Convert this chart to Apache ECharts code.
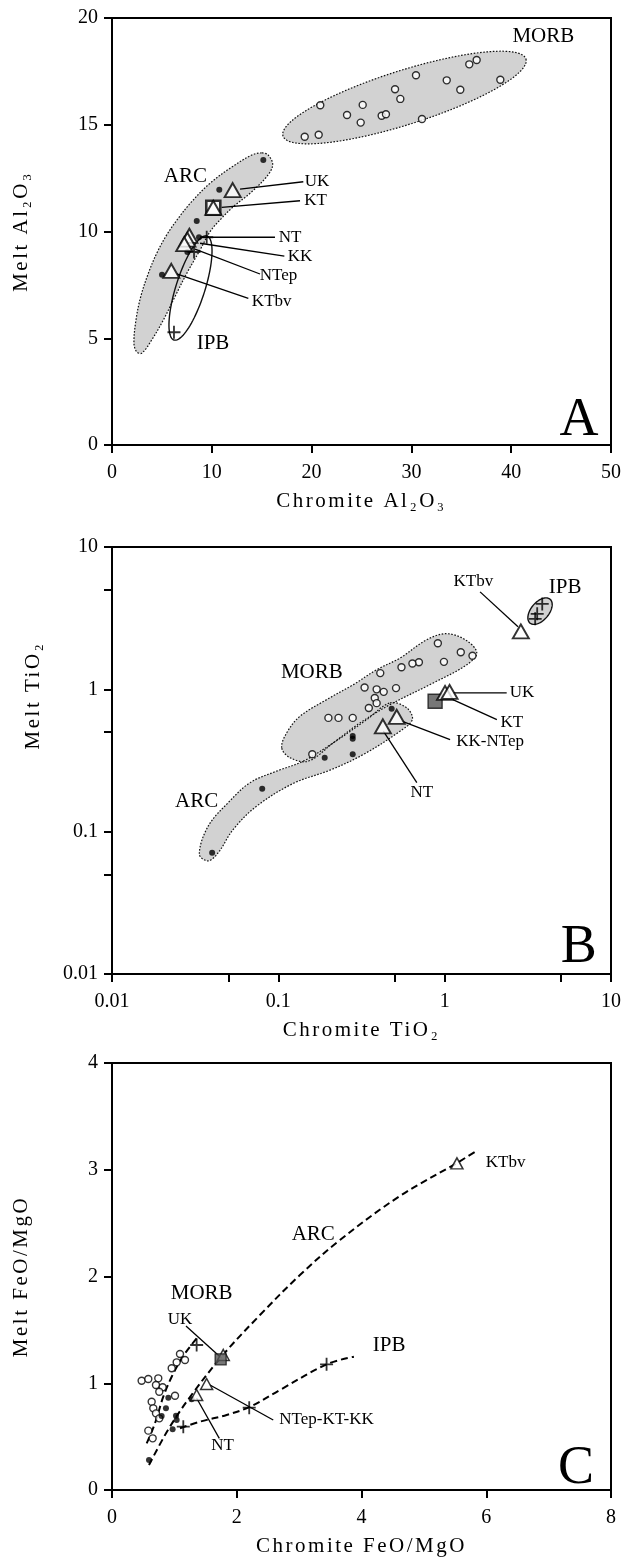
<!DOCTYPE html>
<html>
<head>
<meta charset="utf-8">
<script src="https://cdn.jsdelivr.net/npm/echarts@6/dist/echarts.min.js"></script>
<style>
  html, body { margin: 0; padding: 0; background: #fff; }
  #chart { width: 627px; height: 1562px; }
</style>
</head>
<body>
<div id="chart"></div>
<script>
// ---------- Panel A: chromite Al2O3 vs melt Al2O3 ----------
const aMorb = [[20.87,15.91],[25.12,15.93],[23.55,15.46],[24.92,15.10],[27.02,15.42],[27.45,15.49],[28.36,16.66],[28.89,16.21],[30.46,17.32],[31.06,15.27],[33.54,17.08],[34.9,16.64],[35.8,17.83],[36.54,18.03],[38.91,17.11],[19.31,14.44],[20.71,14.53]];
const aArc = [[15.16,13.35],[10.75,11.96],[8.49,10.49],[8.72,9.73],[7.55,9.04],[5.01,7.98]];
const aIpb = [[9.49,9.73],[8.22,9.04],[6.21,5.28]];
const aSampleNames = ['UK','KT','NT','KK','NTep','KTbv'];
const aSamples = [[12.09,11.94],[10.15,11.11],[7.75,9.80],[7.55,9.62],[7.24,9.41],[5.94,8.16]];
const aKT = [[10.15,11.11]];
// ellipses: both ends of the long axis, then one end of the short axis
const aMorbEllipse = [[17.13,14.47],[41.48,18.08],[30.13,15.07]];
const aIpbEllipse = [[9.52,9.79],[6.21,4.92],[9.25,7.15]];
const aArcOutline = [[15.03,13.68],[15.66,13.58],[16.10,13.11],[15.50,12.57],[13.83,11.79],[12.15,11.16],[10.82,10.54],[9.82,9.99],[8.82,9.13],[7.49,8.04],[6.31,6.95],[5.14,5.85],[3.98,4.92],[2.98,4.30],[2.47,4.37],[2.20,4.76],[2.40,5.85],[2.88,6.95],[3.64,8.04],[4.48,8.98],[5.48,9.84],[6.64,10.62],[7.99,11.40],[9.82,12.26],[11.82,12.96],[14.0,13.58]];
const aLeaders = [[12.83,11.98,19.17,12.33],[10.99,11.13,18.84,11.44],[8.82,9.73,16.33,9.73],[8.82,9.45,17.27,8.85],[8.32,9.17,14.83,8.01],[6.48,8.01,13.66,6.87]];
const aLabels = [[20.54,12.33,'UK'],[20.39,11.43,'KT'],[17.84,9.73,'NT'],[18.84,8.85,'KK'],[16.68,7.96,'NTep'],[16.0,6.71,'KTbv']];
const aRegionLabels = [[43.22,19.12,'MORB'],[7.36,12.6,'ARC'],[10.12,4.76,'IPB']];
const aLetter = [[46.8,1.15,'A']];

// ---------- Panel B: chromite TiO2 vs melt TiO2 (log-log) ----------
const bMorb = [[0.91,2.11],[1.25,1.82],[1.47,1.72],[0.99,1.56],[0.70,1.55],[0.64,1.52],[0.55,1.43],[0.41,1.30],[0.33,1.03],[0.39,1.00],[0.43,0.96],[0.51,1.02],[0.38,0.87],[0.39,0.80],[0.35,0.74],[0.20,0.63],[0.23,0.63],[0.28,0.63],[0.16,0.35]];
const bArc = [[0.48,0.73],[0.28,0.47],[0.28,0.45],[0.28,0.35],[0.19,0.33],[0.08,0.20],[0.04,0.071]];
const bIpb = [[3.86,3.98],[3.6,3.39],[3.5,3.13]];
const bSampleNames = ['UK','KT','KK-NTep','NT','KTbv'];
const bSamples = [[1.005,0.944],[1.07,0.959],[0.515,0.641],[0.425,0.55],[2.87,2.55]];
const bKT = [[0.876,0.824]];
const bMorbOutline = [[0.1048,0.3884],[0.1123,0.495],[0.135,0.647],[0.1954,0.847],[0.2825,1.079],[0.3906,1.374],[0.539,1.66],[0.78,2.23],[1.03,2.46],[1.36,2.194],[1.56,1.80],[1.36,1.49],[0.855,1.109],[0.4695,0.781],[0.31,0.581],[0.2141,0.421],[0.1515,0.313],[0.1176,0.3307]];
const bArcOutline = [[0.4695,0.803],[0.592,0.741],[0.639,0.613],[0.539,0.508],[0.3245,0.3487],[0.2046,0.2707],[0.1231,0.2184],[0.0742,0.1514],[0.0536,0.1039],[0.0436,0.0714],[0.0379,0.0623],[0.0335,0.0694],[0.0379,0.1096],[0.05,0.16],[0.0676,0.2209],[0.0978,0.2664],[0.1413,0.313],[0.2141,0.421],[0.34,0.613]];
const bIpbEllipse = [[3.26,2.92],[4.30,4.30],[4.12,3.23]];
const bLeaders = [[1.633,4.84,2.76,2.75],[1.128,0.944,2.36,0.944],[1.12,0.847,2.06,0.613],[0.552,0.597,1.078,0.444],[0.428,0.508,0.68,0.221]];
const bLabels = [[1.488,5.71,'KTbv'],[2.92,0.944,'UK'],[2.53,0.581,'KT'],[1.875,0.43,'KK-NTep'],[0.728,0.188,'NT']];
const bRegionLabels = [[5.30,5.22,'IPB'],[0.159,1.315,'MORB'],[0.0323,0.164,'ARC']];
const bLetter = [[6.4,0.0152,'B']];
const bTickValues = [0.01,0.05,0.1,0.5,1,5,10];
const bLabelValues = [0.01,0.1,1,10];

// ---------- Panel C: chromite FeO/MgO vs melt FeO/MgO ----------
const cMorb = [[0.475,1.024],[0.582,1.040],[0.742,1.046],[0.705,0.984],[0.812,0.962],[0.758,0.921],[1.09,1.274],[1.037,1.196],[1.17,1.218],[0.957,1.140],[1.01,0.883],[0.636,0.827],[0.662,0.765],[0.705,0.718],[0.758,0.671],[0.582,0.556],[0.652,0.484]];
const cArc = [[0.903,0.865],[0.865,0.765],[0.796,0.693],[1.026,0.696],[1.037,0.656],[0.972,0.568],[0.593,0.281],[1.277,0.849]];
const cCrosses = [[1.357,1.358],[1.143,0.593],[2.2,0.771],[3.44,1.177]];
const cSampleNames = ['UK','NTep-KT-KK','NT','KTbv'];
const cSamples = [[1.784,1.265],[1.517,0.993],[1.357,0.89],[5.53,3.06]];
const cKT = [[1.742,1.224]];
const cArcTrend = [[0.593,0.234],[0.897,0.562],[1.25,0.871],[1.779,1.265],[2.372,1.639],[3.013,2.014],[3.654,2.342],[4.615,2.754],[5.529,3.063],[5.865,3.185]];
const cMorbTrend = [[0.556,0.437],[0.689,0.625],[0.822,0.874],[0.957,1.061],[1.117,1.234],[1.25,1.342],[1.357,1.421]];
const cIpbTrend = [[1.09,0.578],[1.41,0.64],[1.838,0.703],[2.212,0.78],[2.692,0.937],[3.44,1.177],[3.878,1.249]];
const cLeaders = [[1.186,1.536,1.758,1.234],[1.571,0.984,2.585,0.656],[1.357,0.859,1.72,0.484]];
const cLabels = [[1.09,1.599,'UK'],[3.44,0.656,'NTep-KT-KK'],[1.774,0.412,'NT'],[6.31,3.066,'KTbv']];
const cRegionLabels = [[1.437,1.843,'MORB'],[3.226,2.389,'ARC'],[4.444,1.358,'IPB']];
const cLetter = [[7.44,0.2,'C']];

const FONT = 'Liberation Serif, Times New Roman, serif';
const GRAY = '#d2d2d2';
const CROSS = 'path://M4.3,0H5.7V4.3H10V5.7H5.7V10H4.3V5.7H0V4.3H4.3Z';
const TITLE_LETTER_SPACING = '2.5px';

function ellipsePixels(api, e) {
  const p1 = api.coord(e[0]), p2 = api.coord(e[1]), q = api.coord(e[2]);
  const c = [(p1[0] + p2[0]) / 2, (p1[1] + p2[1]) / 2];
  const a = [p2[0] - c[0], p2[1] - c[1]];
  const b = [q[0] - c[0], q[1] - c[1]];
  const pts = [];
  for (let k = 0; k < 96; k++) {
    const t = k / 96 * Math.PI * 2;
    pts.push([c[0] + a[0] * Math.cos(t) + b[0] * Math.sin(t),
              c[1] + a[1] * Math.cos(t) + b[1] * Math.sin(t)]);
  }
  return pts;
}

function shapePixels(api, s) {
  return s.ellipse ? ellipsePixels(api, s.pts) : s.pts.map(p => api.coord(p));
}

// grey fields (fills first, outlines on top of every fill)
function regionSeries(panel, shapes) {
  const base = { type: 'custom', xAxisIndex: panel, yAxisIndex: panel, silent: true,
                 data: shapes.map(s => s.pts[0]) };
  return [
    Object.assign({}, base, { z: 1, renderItem: (params, api) => {
      const s = shapes[params.dataIndex];
      if (!s.fill) return { type: 'group', children: [] };
      return { type: 'polygon', shape: { points: shapePixels(api, s), smooth: s.ellipse ? 0 : 0.35 },
               style: { fill: GRAY, stroke: null } };
    }}),
    Object.assign({}, base, { z: 2, renderItem: (params, api) => {
      const s = shapes[params.dataIndex];
      return { type: 'polygon', shape: { points: shapePixels(api, s), smooth: s.ellipse ? 0 : 0.35 },
               style: { fill: null, stroke: '#111', lineWidth: s.dotted ? 1.2 : 1.4,
                        lineDash: s.dotted ? [1.6, 1.6] : null } };
    }})
  ];
}

function leaderSeries(panel, segs) {
  return { type: 'custom', xAxisIndex: panel, yAxisIndex: panel, silent: true, z: 3,
    data: segs, encode: { x: [0, 2], y: [1, 3] },
    renderItem: (params, api) => {
      const p = api.coord([api.value(0), api.value(1)]);
      const q = api.coord([api.value(2), api.value(3)]);
      return { type: 'line', shape: { x1: p[0], y1: p[1], x2: q[0], y2: q[1] },
               style: { stroke: '#000', lineWidth: 1.3 } };
    } };
}

function textSeries(panel, items, size) {
  return { type: 'custom', xAxisIndex: panel, yAxisIndex: panel, silent: true, z: 6,
    data: items.map(t => [t[0], t[1]]),
    renderItem: (params, api) => {
      const t = items[params.dataIndex];
      const p = api.coord([t[0], t[1]]);
      return { type: 'text', x: p[0], y: p[1],
               style: { text: t[2], fill: '#000', fontSize: size, fontFamily: FONT,
                        align: 'center', verticalAlign: 'middle' } };
    } };
}

function marks(panel, data, look, z, names) {
  const looks = {
    open:   { symbol: 'circle', symbolSize: 7, itemStyle: { color: '#fff', borderColor: '#000', borderWidth: 1.4 } },
    dot:    { symbol: 'circle', symbolSize: 6, itemStyle: { color: '#000' } },
    tri:    { symbol: 'triangle', symbolSize: [16, 14], itemStyle: { color: '#fff', borderColor: '#000', borderWidth: 1.9 } },
    triS:   { symbol: 'triangle', symbolSize: [12, 11], itemStyle: { color: '#fff', borderColor: '#000', borderWidth: 1.5 } },
    cross:  { symbol: CROSS, symbolSize: 13, itemStyle: { color: '#000' } },
    sqOpen: { symbol: 'rect', symbolSize: 14, itemStyle: { color: '#fff', borderColor: '#000', borderWidth: 2.6 } },
    sqDark: { symbol: 'rect', symbolSize: 14, itemStyle: { color: '#555', borderColor: '#111', borderWidth: 1.4 } },
    sqDarkS:{ symbol: 'rect', symbolSize: 11, itemStyle: { color: '#555', borderColor: '#111', borderWidth: 1.3 } }
  };
  const d = names ? data.map((v, i) => ({ value: v, name: names[i] })) : data;
  return Object.assign({ type: 'scatter', xAxisIndex: panel, yAxisIndex: panel, z: z, data: d,
                         silent: true }, looks[look]);
}

function trend(panel, data) {
  return { type: 'line', xAxisIndex: panel, yAxisIndex: panel, data: data, smooth: 0.35,
           symbol: 'none', silent: true, z: 3,
           lineStyle: { color: '#000', width: 2, type: [7, 4] } };
}

const axisCommon = {
  nameLocation: 'middle',
  nameMoveOverlap: false,
  axisLine: { show: true, onZero: false, lineStyle: { color: '#000', width: 2 } },
  axisTick: { show: true, inside: false, length: 8, lineStyle: { color: '#000', width: 2 } },
  axisLabel: { color: '#000', fontFamily: FONT, fontSize: 20, margin: 18 },
  splitLine: { show: false },
  nameTextStyle: { color: '#000', fontFamily: FONT, fontSize: 21 }
};
function ax(extra) { return Object.assign({}, JSON.parse(JSON.stringify(axisCommon)), extra); }

const xAxes = [
  ax({ gridIndex: 0, type: 'value', min: 0, max: 50, interval: 10, name: 'Chromite Al₂O₃', nameGap: 46 }),
  ax({ gridIndex: 1, type: 'log', logBase: 10, min: 0.01, max: 10, name: 'Chromite TiO₂', nameGap: 46 }),
  ax({ gridIndex: 2, type: 'value', min: 0, max: 8, interval: 2, name: 'Chromite FeO/MgO', nameGap: 46 })
];
const yAxes = [
  ax({ gridIndex: 0, type: 'value', min: 0, max: 20, interval: 5, name: 'Melt Al₂O₃', nameRotate: 90, nameGap: 80 }),
  ax({ gridIndex: 1, type: 'log', logBase: 10, min: 0.01, max: 10, name: 'Melt TiO₂', nameRotate: 90, nameGap: 68 }),
  ax({ gridIndex: 2, type: 'value', min: 0, max: 4, interval: 1, name: 'Melt FeO/MgO', nameRotate: 90, nameGap: 80 })
];
// the TiO2 title sits above the middle of its axis
yAxes[1].nameTextStyle.padding = [0, 0, 0, 130];
[xAxes[1], yAxes[1]].forEach(a => {
  a.axisTick.customValues = bTickValues;
  a.axisLabel.customValues = bLabelValues;
  a.axisLabel.formatter = v => String(v);
});
yAxes.forEach(a => { a.axisLabel.margin = 14; });

// axis titles are typeset with open letter spacing; every other text keeps normal spacing
const axisTitles = new Set(xAxes.concat(yAxes).map(a => a.name));
const baseFillText = CanvasRenderingContext2D.prototype.fillText;
CanvasRenderingContext2D.prototype.fillText = function (text) {
  if (!('letterSpacing' in this)) return baseFillText.apply(this, arguments);
  const font = this.font;
  this.letterSpacing = axisTitles.has(text) ? TITLE_LETTER_SPACING : '0px';
  this.font = font;
  const r = baseFillText.apply(this, arguments);
  this.letterSpacing = '0px';
  this.font = font;
  return r;
};

const gridBox = { left: 112, width: 499, show: true, borderColor: '#000', borderWidth: 2,
                  backgroundColor: 'transparent', containLabel: false, outerBoundsMode: 'none' };
const grids = [
  Object.assign({}, gridBox, { top: 18, height: 427 }),
  Object.assign({}, gridBox, { top: 547, height: 427 }),
  Object.assign({}, gridBox, { top: 1063, height: 427 })
];

const series = [].concat(
  // A
  regionSeries(0, [
    { pts: aMorbEllipse, ellipse: true, fill: true, dotted: true },
    { pts: aArcOutline, ellipse: false, fill: true, dotted: true },
    { pts: aIpbEllipse, ellipse: true, fill: false, dotted: false }
  ]),
  leaderSeries(0, aLeaders),
  marks(0, aMorb, 'open', 4),
  marks(0, aArc, 'dot', 4),
  marks(0, aIpb, 'cross', 4),
  marks(0, aKT, 'sqOpen', 4),
  marks(0, aSamples, 'tri', 5, aSampleNames),
  textSeries(0, aLabels, 17),
  textSeries(0, aRegionLabels, 21),
  textSeries(0, aLetter, 54),
  // B
  regionSeries(1, [
    { pts: bMorbOutline, ellipse: false, fill: true, dotted: true },
    { pts: bArcOutline, ellipse: false, fill: true, dotted: true },
    { pts: bIpbEllipse, ellipse: true, fill: true, dotted: false }
  ]),
  leaderSeries(1, bLeaders),
  marks(1, bMorb, 'open', 4),
  marks(1, bArc, 'dot', 4),
  marks(1, bIpb, 'cross', 4),
  marks(1, bKT, 'sqDark', 4),
  marks(1, bSamples, 'tri', 5, bSampleNames),
  textSeries(1, bLabels, 17),
  textSeries(1, bRegionLabels, 21),
  textSeries(1, bLetter, 54),
  // C
  trend(2, cArcTrend),
  trend(2, cMorbTrend),
  trend(2, cIpbTrend),
  leaderSeries(2, cLeaders),
  marks(2, cMorb, 'open', 4),
  marks(2, cArc, 'dot', 4),
  marks(2, cCrosses, 'cross', 4),
  marks(2, cSamples, 'triS', 5, cSampleNames),
  marks(2, cKT, 'sqDarkS', 5),
  textSeries(2, cLabels, 17),
  textSeries(2, cRegionLabels, 21),
  textSeries(2, cLetter, 54)
);

const chart = echarts.init(document.getElementById('chart'), null, { renderer: 'canvas' });
chart.setOption({
  animation: false,
  backgroundColor: '#fff',
  grid: grids,
  xAxis: xAxes,
  yAxis: yAxes,
  series: series
});
</script>
</body>
</html>
